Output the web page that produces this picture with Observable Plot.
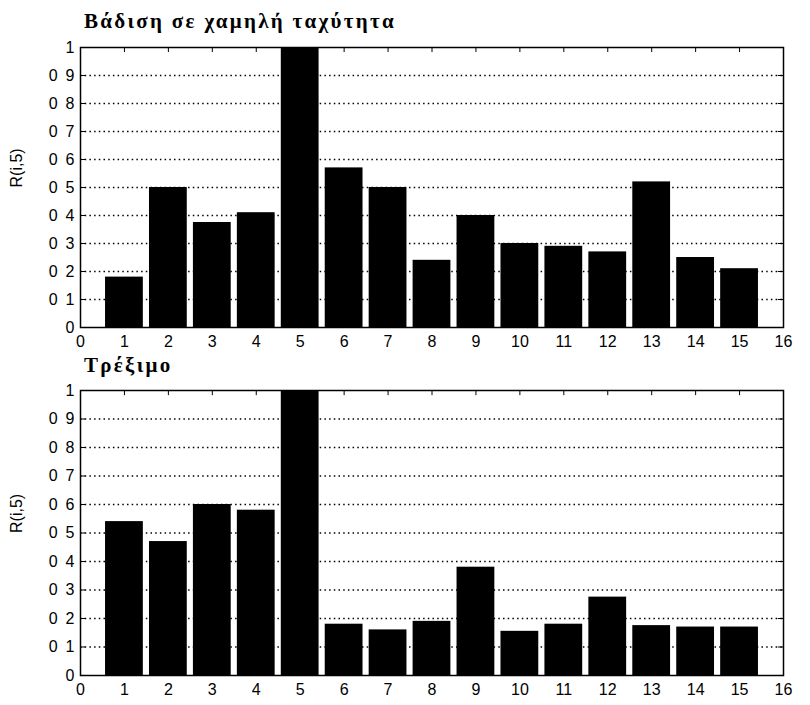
<!DOCTYPE html>
<html>
<head>
<meta charset="utf-8">
<script src="https://cdn.jsdelivr.net/npm/d3@7"></script>
<script src="https://cdn.jsdelivr.net/npm/@observablehq/plot@0.6"></script>
<style>
  body { margin: 0; background: #fff; }
  #chart { width: 810px; height: 705px; position: relative; }
  .panel { position: relative; }
  .ttl { position: absolute; left: 84px; font-family: "Liberation Serif", "DejaVu Serif", serif; font-weight: bold; font-size: 21px; letter-spacing: 2.3px; color: #000; }
</style>
</head>
<body>
<div id="chart"></div>
<script>
const indices = [1,2,3,4,5,6,7,8,9,10,11,12,13,14,15];
const walkValues = [0.18,0.50,0.375,0.41,1.0,0.57,0.50,0.24,0.40,0.30,0.29,0.27,0.52,0.25,0.21];
const runValues  = [0.54,0.47,0.60,0.58,1.0,0.18,0.16,0.19,0.38,0.155,0.18,0.275,0.175,0.17,0.17];
const titles = ["Βάδιση σε χαμηλή ταχύτητα", "Τρέξιμο"];
const yLabel = "R(i,5)";
const xTicks = d3.range(0, 17);
const yTicks = [0,0.1,0.2,0.3,0.4,0.5,0.6,0.7,0.8,0.9,1];
const gridTicks = [0.1,0.2,0.3,0.4,0.5,0.6,0.7,0.8,0.9];

const fmtY = d => d === 0 ? "0" : d === 1 ? "1" : "0\u2002" + Math.round(d * 10);
const tickFont = "'Liberation Sans Narrow', 'Liberation Sans', sans-serif";

function panel(values, title, h, mt, mb, titleTop) {
  const data = indices.map((k, i) => ({k, v: values[i]}));
  const wrap = document.createElement("div");
  wrap.className = "panel";
  wrap.style.height = h + "px";
  const plot = Plot.plot({
    width: 810, height: h,
    marginLeft: 80, marginRight: 27, marginTop: mt, marginBottom: mb,
    style: {fontFamily: tickFont, fontSize: "16px", color: "#000", background: "#fff"},
    x: {domain: [0, 16], label: null},
    y: {domain: [0, 1], label: null},
    marks: [
      Plot.ruleY(gridTicks, {stroke: "#000", strokeWidth: 1.3, strokeDasharray: "1.5,3.2"}),
      Plot.rectY(data, {x1: d => d.k - 0.43, x2: d => d.k + 0.43, y1: 0, y2: "v", fill: "#000"}),
      Plot.ruleX(xTicks, {x: d => d, y1: 0, y2: 0.018, stroke: "#000"}),
      Plot.ruleX(xTicks, {x: d => d, y1: 0.982, y2: 1, stroke: "#000"}),
      Plot.ruleY(yTicks, {y: d => d, x1: 0, x2: 0.12, stroke: "#000"}),
      Plot.ruleY(yTicks, {y: d => d, x1: 15.88, x2: 16, stroke: "#000"}),
      Plot.axisX(xTicks, {tickSize: 0, tickPadding: 8, tickFormat: d => String(d), fontSize: 16, label: null}),
      Plot.axisY(yTicks, {tickSize: 0, tickPadding: 6, tickFormat: fmtY, fontSize: 16, label: null}),
      Plot.frame({stroke: "#000", strokeWidth: 1.5}),
      Plot.text([yLabel], {text: d => d, frameAnchor: "left", rotate: -90, dx: -64, fontSize: 16, fontFamily: "'Liberation Sans', sans-serif"})
    ]
  });
  wrap.appendChild(plot);
  const t = document.createElement("div");
  t.className = "ttl";
  t.style.top = titleTop + "px";
  t.textContent = title;
  wrap.appendChild(t);
  return wrap;
}

const chart = document.getElementById("chart");
chart.appendChild(panel(walkValues, titles[0], 352, 47, 25, 9));
chart.appendChild(panel(runValues, titles[1], 353, 38, 30, 1));
</script>
</body>
</html>
